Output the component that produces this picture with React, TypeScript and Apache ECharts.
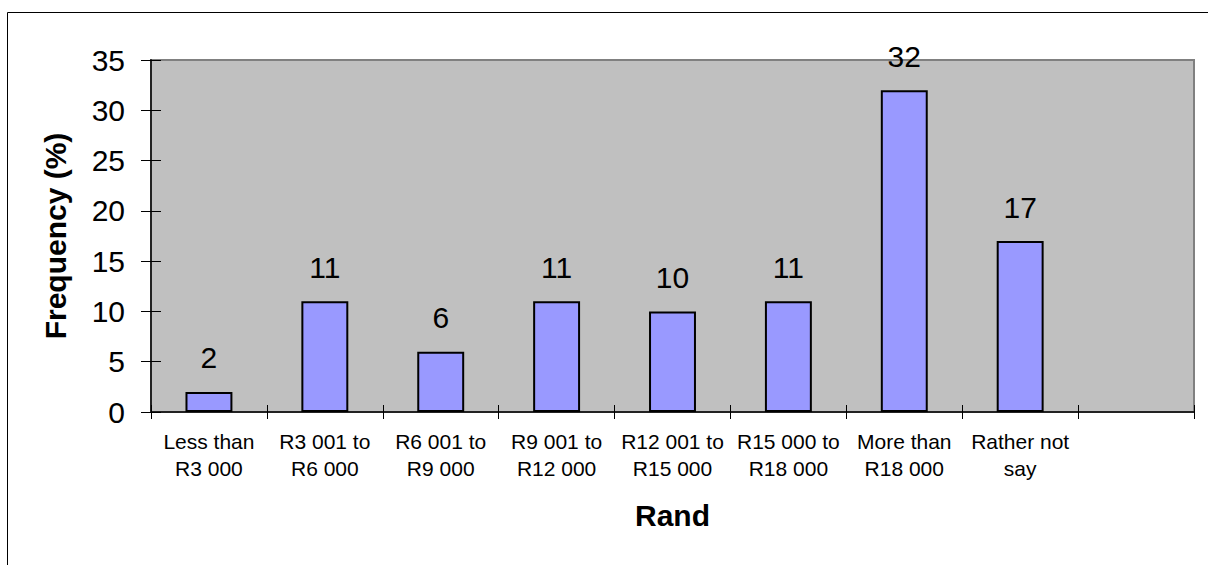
import React, { useEffect, useRef } from "react";
import * as echarts from "echarts";

const categories = [
  "Less than\nR3 000",
  "R3 001 to\nR6 000",
  "R6 001 to\nR9 000",
  "R9 001 to\nR12 000",
  "R12 001 to\nR15 000",
  "R15 000 to\nR18 000",
  "More than\nR18 000",
  "Rather not\nsay",
  "",
];
const frequency: (number | null)[] = [2, 11, 6, 11, 10, 11, 32, 17, null];
const yTicks = { min: 0, max: 35, interval: 5 };
const xTitle = "Rand";
const yTitle = "Frequency (%)";

const FONT = '"Liberation Sans", Arial, sans-serif';

export default function App() {
  const ref = useRef<HTMLDivElement>(null);
  useEffect(() => {
    if (!ref.current) return;
    const chart = echarts.init(ref.current, null, { renderer: "svg" });
    chart.setOption({
      animation: false,
      backgroundColor: "#ffffff",
      textStyle: { fontFamily: FONT },
      graphic: [
        {
          type: "rect",
          shape: { x: 7.5, y: 12.5, width: 1300, height: 700 },
          style: { fill: "none", stroke: "#000", lineWidth: 1 },
          silent: true,
          z: 100,
        },
      ],
      grid: {
        left: 151,
        top: 60,
        right: 14,
        bottom: 153,
        show: true,
        backgroundColor: "#C0C0C0",
        borderColor: "#808080",
        borderWidth: 2,
      },
      xAxis: [
        {
          type: "category",
          data: categories,
          position: "bottom",
          axisLine: { show: true, lineStyle: { color: "#222", width: 2 } },
          axisTick: { show: true, length: 7, lineStyle: { color: "#000", width: 1 } },
          axisLabel: {
            interval: 0,
            fontSize: 21,
            lineHeight: 27,
            color: "#000",
            margin: 16,
            fontFamily: FONT,
          },
          name: xTitle,
          nameLocation: "middle",
          nameGap: 88,
          nameTextStyle: { fontSize: 30, fontWeight: "bold", color: "#000", fontFamily: FONT },
          splitLine: { show: false },
        },
        {
          type: "category",
          data: categories,
          position: "bottom",
          axisLine: { show: false },
          axisTick: { show: true, inside: true, length: 7, lineStyle: { color: "#000", width: 1 } },
          axisLabel: { show: false },
          splitLine: { show: false },
        },
      ],
      yAxis: [
        {
          type: "value",
          min: yTicks.min,
          max: yTicks.max,
          interval: yTicks.interval,
          position: "left",
          axisLine: { show: true, lineStyle: { color: "#222", width: 2 } },
          axisTick: { show: true, length: 10, lineStyle: { color: "#000", width: 1 } },
          axisLabel: { fontSize: 30, color: "#000", margin: 26, fontFamily: FONT },
          splitLine: { show: false },
          name: yTitle,
          nameLocation: "middle",
          nameRotate: 90,
          nameGap: 81,
          nameTextStyle: { fontSize: 30, fontWeight: "bold", color: "#000", fontFamily: FONT },
        },
        {
          type: "value",
          min: yTicks.min,
          max: yTicks.max,
          interval: yTicks.interval,
          position: "left",
          axisLine: { show: false },
          axisTick: { show: true, inside: true, length: 10, lineStyle: { color: "#000", width: 1 } },
          axisLabel: { show: false },
          splitLine: { show: false },
        },
      ],
      series: [
        {
          type: "bar",
          data: frequency,
          xAxisIndex: 0,
          yAxisIndex: 0,
          barWidth: "40.5%",
          itemStyle: { color: "#9999FF", borderColor: "#000", borderWidth: 2 },
          label: {
            show: true,
            position: "top",
            distance: 19,
            fontSize: 30,
            color: "#000",
            fontFamily: FONT,
          },
        },
      ],
    });
    return () => chart.dispose();
  }, []);
  return (
    <div
      ref={ref}
      style={{ position: "fixed", left: 0, top: 0, width: 1208, height: 565 }}
    />
  );
}
